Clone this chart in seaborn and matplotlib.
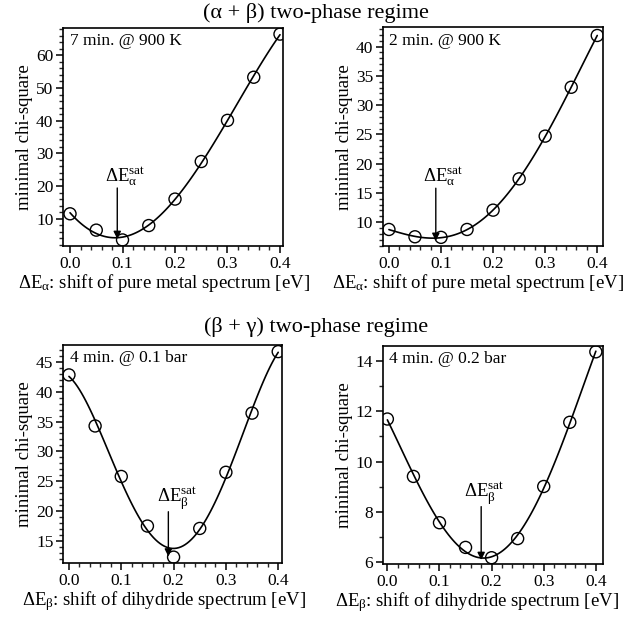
import matplotlib
matplotlib.use("Agg")
import matplotlib.pyplot as plt
import seaborn as sns
import pandas as pd
from matplotlib.ticker import MultipleLocator

sns.set_theme(style="ticks")
plt.rcParams["font.family"] = ["Liberation Serif", "DejaVu Serif"]
plt.rcParams["mathtext.fontset"] = "custom"
plt.rcParams["mathtext.rm"] = "Liberation Serif"
plt.rcParams["mathtext.it"] = "Liberation Serif:italic"

shift = [0.0, 0.05, 0.10, 0.15, 0.20, 0.25, 0.30, 0.35, 0.40]
chi_7min_900K = [11.5, 6.5, 3.5, 7.9, 16.0, 27.5, 40.1, 53.3, 66.5]
chi_2min_900K = [8.75, 7.5, 7.4, 8.75, 12.05, 17.4, 24.7, 33.05, 41.9]
chi_4min_01bar = [42.8, 34.25, 25.8, 17.5, 12.3, 17.1, 26.5, 36.4, 46.7]
chi_4min_02bar = [11.69, 9.41, 7.57, 6.59, 6.18, 6.94, 9.01, 11.56, 14.36]

panel_labels = ["7 min. @ 900 K", "2 min. @ 900 K", "4 min. @ 0.1 bar", "4 min. @ 0.2 bar"]
sat_shift = [0.09, 0.09, 0.19, 0.18]
titles = ["(α + β) two-phase regime", "(β + γ) two-phase regime"]
xlabels = [r"ΔE$_{\mathrm{α}}$: shift of pure metal spectrum [eV]",
           r"ΔE$_{\mathrm{β}}$: shift of dihydride spectrum [eV]"]
sat_labels = [r"ΔE$_{\mathrm{α}}^{\mathrm{sat}}$", r"ΔE$_{\mathrm{β}}^{\mathrm{sat}}$"]

series = [chi_7min_900K, chi_2min_900K, chi_4min_01bar, chi_4min_02bar]

fig = plt.figure(figsize=(6.32, 6.20), dpi=100)
positions = [
    [0.100, 0.603, 0.348, 0.352],
    [0.6055, 0.603, 0.349, 0.353],
    [0.100, 0.0915, 0.346, 0.352],
    [0.6055, 0.0903, 0.348, 0.352],
]
ylims = [(1.6, 68.4), (5.9, 43.3), (11.27, 47.8), (5.93, 14.6)]
xlims = [(-0.013, 0.406), (-0.012, 0.4115), (-0.011, 0.407), (-0.009, 0.413)]
ymajor = [10, 5, 5, 2]
yminor = [2, 1, 1, 1]
arrow_top = [19.4, 15.8, 19.9, 8.21]
arrow_tip = [3.8, 6.8, 12.4, 6.09]
label_dx = [0.015, 0.014, 0.016, 0.006]
xlabel_x = [0.46, 0.43, 0.46, 0.43]

fs_tick = 12.5
fs_lab = 13.5
for i, (pos, y) in enumerate(zip(positions, series)):
    ax = fig.add_axes(pos)
    df = pd.DataFrame({"x": shift, "y": y})
    sns.regplot(data=df, x="x", y="y", order=4, ci=None, scatter=False, ax=ax,
                line_kws=dict(color="black", lw=1.2))
    sns.scatterplot(data=df, x="x", y="y", ax=ax, marker="o", s=75,
                    facecolor="none", edgecolor="black", linewidth=1.0, zorder=3)
    ax.set_xlim(*xlims[i])
    ax.set_ylim(*ylims[i])
    ax.xaxis.set_major_locator(MultipleLocator(0.1))
    ax.xaxis.set_minor_locator(MultipleLocator(0.02))
    ax.yaxis.set_major_locator(MultipleLocator(ymajor[i]))
    ax.yaxis.set_minor_locator(MultipleLocator(yminor[i]))
    ax.xaxis.set_major_formatter(plt.FuncFormatter(lambda v, p: f"{v:.1f}"))
    ax.tick_params(which="major", direction="out", length=5, width=1.1, labelsize=fs_tick, pad=2, colors="black")
    ax.tick_params(which="minor", direction="out", length=3, width=1.0)
    for sp in ax.spines.values():
        sp.set_color("black")
        sp.set_linewidth(1.2)
    ax.set_xlabel(xlabels[i // 2], fontsize=fs_lab, labelpad=0, color="black")
    ax.xaxis.label.set_x(xlabel_x[i])
    ax.set_ylabel("minimal chi-square", fontsize=fs_lab, labelpad=2, color="black")
    ax.text(0.03, 0.975, panel_labels[i], transform=ax.transAxes, ha="left", va="top",
            fontsize=12.5, color="black")
    xs = sat_shift[i]
    ax.annotate("", xy=(xs, arrow_tip[i]), xytext=(xs, arrow_top[i]),
                arrowprops=dict(arrowstyle="-|>", color="black", lw=1.0,
                                mutation_scale=11, shrinkA=0, shrinkB=0))
    ax.text(xs + label_dx[i], arrow_top[i], sat_labels[i // 2], ha="center", va="bottom",
            fontsize=fs_lab, color="black")

fig.text(0.5, 0.979, titles[0], ha="center", va="center", fontsize=16, color="black")
fig.text(0.5, 0.472, titles[1], ha="center", va="center", fontsize=16, color="black")

fig.savefig("out.png", dpi=100)
